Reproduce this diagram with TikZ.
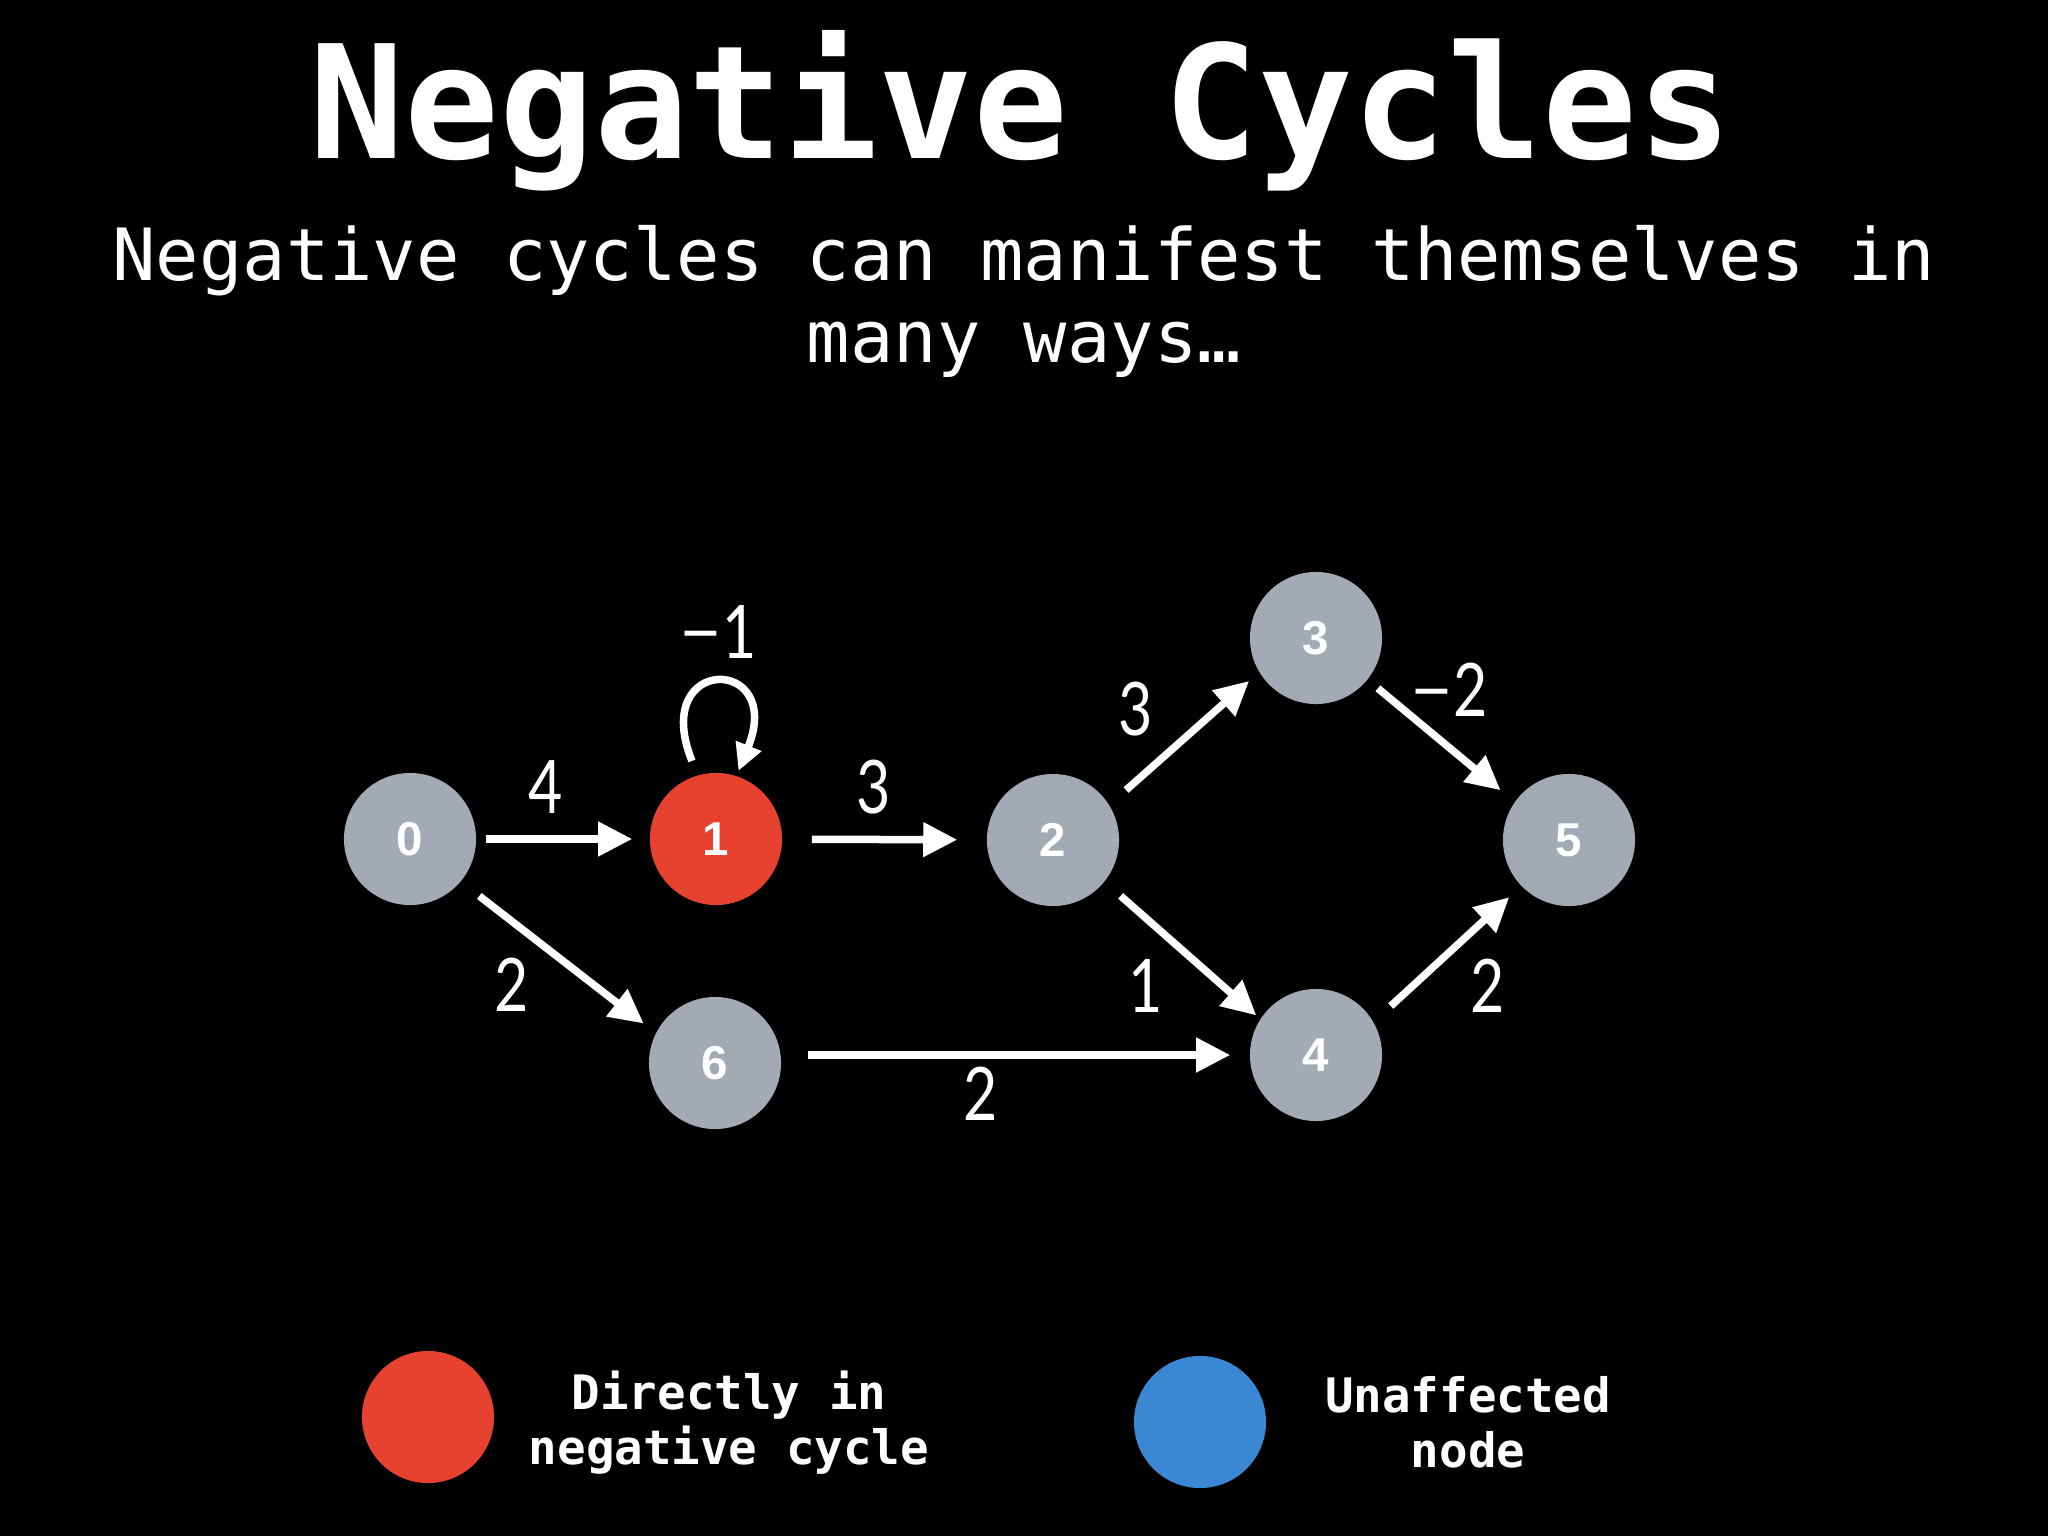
\documentclass[tikz,border=0pt]{standalone}
\usepackage{fontspec}
\setmonofont{DejaVu Sans Mono}
\newfontfamily\weightfont{Lato}[FakeStretch=0.8]
\newfontfamily\minusfont{Lato}
\newfontfamily\vertexfont{Liberation Sans}
\usetikzlibrary{arrows.meta}
\definecolor{vertexgrey}{RGB}{163,170,180}
\definecolor{cyclered}{RGB}{231,65,48}
\definecolor{freeblue}{RGB}{58,135,212}
\newcommand{\negw}{{\minusfont −}}
\tikzset{ %styles of the graph
  vertex/.style={circle, fill=vertexgrey, minimum size=1.32cm, inner sep=0pt,
    text=white, font=\vertexfont\bfseries\fontsize{13.5}{13.5}\selectfont},
  weight/.style={text=white, font=\weightfont\fontsize{21}{21}\selectfont},
  edgearrow/.style={draw=white, line width=0.075cm,
    -{Triangle[length=0.34cm,width=0.33cm]}},
  keydot/.style={circle, minimum size=1.32cm, inner sep=0pt},
  keytext/.style={text=white, align=center, anchor=base,
    font=\ttfamily\bfseries\fontsize{13.5}{15.37}\selectfont}
}

\begin{document}
\begin{tikzpicture}[x=0.01cm, y=-0.01cm] % one unit is one pixel, y grows downwards
\useasboundingbox (0,0) rectangle (2048,1536);
\fill[black] (0,0) rectangle (2048,1536);

\node[text=white, anchor=base, font=\ttfamily\bfseries\fontsize{44.8}{50}\selectfont]
  (title) at (1021,158) {Negative Cycles};
% base of a two line node is the base of its last line
\node[text=white, anchor=base, align=center, font=\ttfamily\fontsize{20.5}{23.3}\selectfont]
  (subtitle) at (1024,362) {Negative cycles can manifest themselves in\\many ways…};

\node[vertex] (n0) at (410,839) {0};
\node[vertex, fill=cyclered] (n1) at (716,839) {1};
\node[vertex] (n2) at (1053,840) {2};
\node[vertex] (n3) at (1316,638) {3};
\node[vertex] (n4) at (1316,1055) {4};
\node[vertex] (n5) at (1569,840) {5};
\node[vertex] (n6) at (715,1063) {6};

\draw[edgearrow, shorten <=0.09cm, shorten >=0.17cm] (n0) -- (n1);
\draw[edgearrow, shorten <=0.29cm, shorten >=0.29cm] (n1) -- (n2);
\draw[edgearrow, -{Triangle[length=0.27cm,width=0.26cm]}, shorten <=0.15cm, shorten >=0.05cm]
  (n1.106) .. controls +(112:1.3cm) and +(68:1.3cm) .. (n1.72);
\draw[edgearrow, shorten <=0.23cm, shorten >=0.15cm] (n0.320) -- (n6.153);
\draw[edgearrow, shorten <=0.26cm, shorten >=0.19cm] (n6.east |- n4) -- (n4);
\draw[edgearrow, shorten <=0.22cm, shorten >=0.13cm] (n2.32) -- (n3.211);
\draw[edgearrow, shorten <=0.21cm, shorten >=0.05cm] (n2.321) -- (n4.147);
\draw[edgearrow, shorten <=0.13cm, shorten >=0.18cm] (n3.321) -- (n5.145);
\draw[edgearrow, shorten <=0.23cm, shorten >=0.16cm] (n4.30) -- (n5.224);

\node[weight] (w01) at (546,787) {4};
\node[weight] (w12) at (874,787) {3};
\node[weight] (w11) at (718,632) {\negw1};
\node[weight] (w06) at (512,985) {2};
\node[weight] (w64) at (981,1094) {2};
\node[weight] (w23) at (1136,709) {3};
\node[weight] (w24) at (1146,986) {1};
\node[weight] (w35) at (1449,690) {\negw2};
\node[weight] (w45) at (1488,986) {2};

\node[keydot, fill=cyclered] (keyred) at (428,1417) {};
\node[keytext] (keyredtext) at (729,1464) {Directly in\\negative cycle};
\node[keydot, fill=freeblue] (keyblue) at (1200,1422) {};
\node[keytext] (keybluetext) at (1468,1467) {Unaffected\\node};

\end{tikzpicture}
\end{document}
